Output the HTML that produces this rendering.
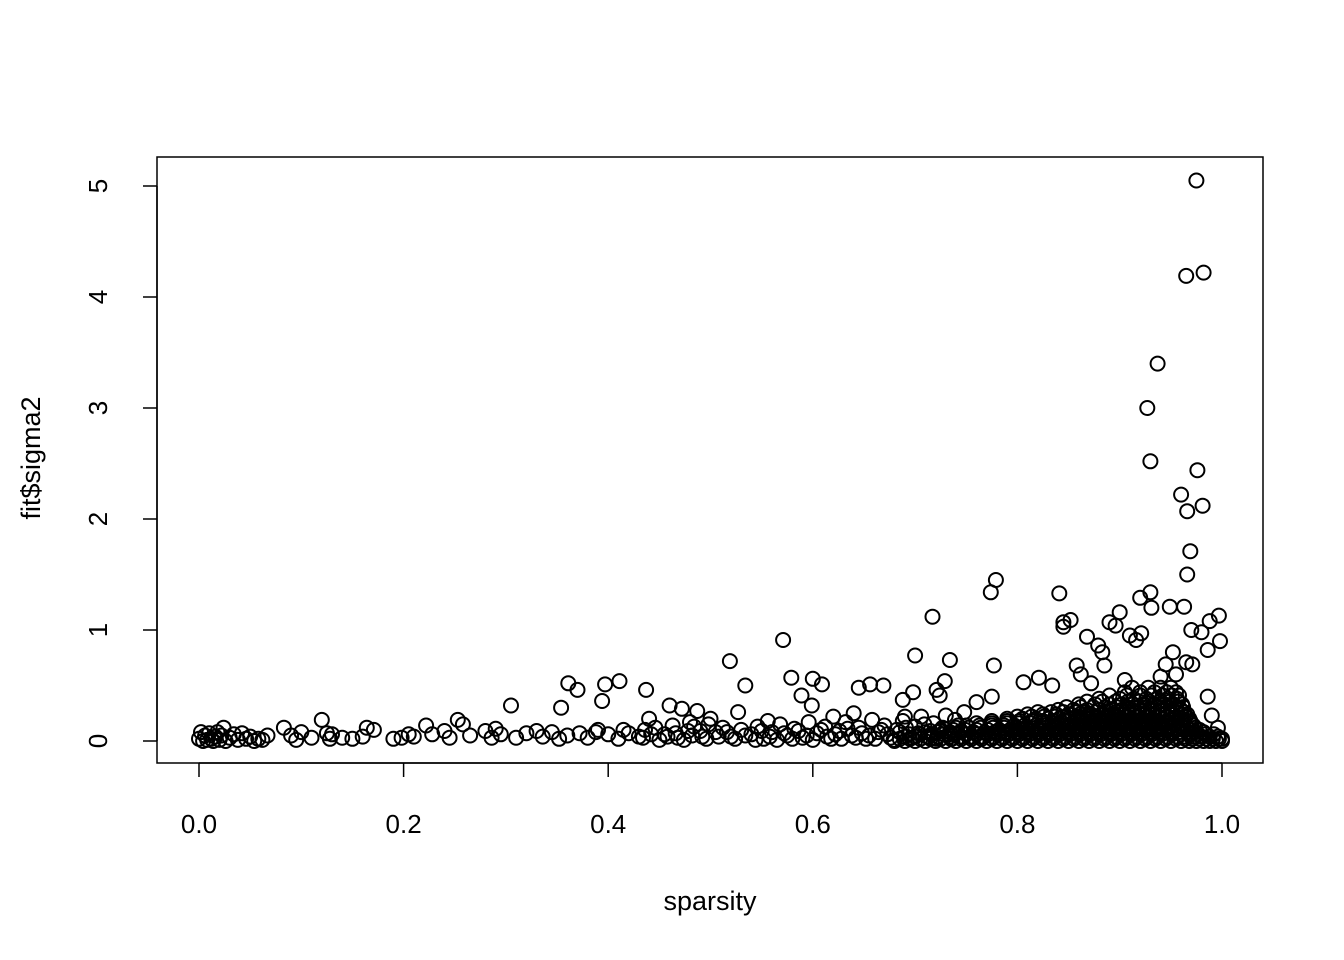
<!DOCTYPE html>
<html><head><meta charset="utf-8"><style>
html,body{margin:0;padding:0;background:#fff}
svg{display:block;font-family:"Liberation Sans",Arial,sans-serif}
</style></head><body>
<svg id="chart" width="1344" height="960" viewBox="0 0 1344 960">
<rect x="0" y="0" width="1344" height="960" fill="#fff"/>
<rect x="157" y="157" width="1106" height="606" fill="none" stroke="#000" stroke-width="1.5"/>
<g id="points" fill="none" stroke="#000" stroke-width="2"></g>
<g id="axes"></g>
<text x="710" y="910" font-size="27" text-anchor="middle">sparsity</text>
<text transform="translate(40,458) rotate(-90)" font-size="27" text-anchor="middle">fit$sigma2</text>
</svg>
<script>
const xTicks = [0.0, 0.2, 0.4, 0.6, 0.8, 1.0];
const xTickLabels = ["0.0", "0.2", "0.4", "0.6", "0.8", "1.0"];
const yTicks = [0, 1, 2, 3, 4, 5];
const yTickLabels = ["0", "1", "2", "3", "4", "5"];

const outlierPoints = [
[0.975,5.05],[0.965,4.19],[0.982,4.22],[0.937,3.40],[0.927,3.00],[0.930,2.52],[0.976,2.44],
[0.960,2.22],[0.981,2.12],[0.966,2.07],[0.969,1.71],[0.966,1.50],[0.779,1.45],[0.774,1.34],
[0.841,1.33],[0.930,1.34],[0.920,1.29],[0.949,1.21],[0.963,1.21],[0.931,1.20],[0.997,1.13],
[0.717,1.12],[0.900,1.16],[0.852,1.09],[0.845,1.07],[0.845,1.03],[0.890,1.07],[0.896,1.04],
[0.988,1.08],[0.970,1.00],[0.980,0.98],[0.910,0.95],[0.916,0.91],[0.921,0.97],[0.998,0.90],
[0.868,0.94],[0.571,0.91],[0.879,0.86],[0.883,0.80],[0.986,0.82],[0.952,0.80],[0.700,0.77],
[0.519,0.72],[0.734,0.73],[0.945,0.69],[0.965,0.71],[0.971,0.69],[0.777,0.68],[0.858,0.68],
[0.885,0.68],[0.579,0.57],[0.600,0.56],[0.609,0.51],[0.361,0.52],[0.397,0.51],[0.411,0.54],
[0.370,0.46],[0.394,0.36],[0.437,0.46],[0.534,0.50],[0.729,0.54],[0.721,0.46],[0.724,0.41],
[0.645,0.48],[0.656,0.51],[0.669,0.50],[0.698,0.44],[0.688,0.37],[0.589,0.41],[0.599,0.32],
[0.305,0.32],[0.354,0.30],[0.460,0.32],[0.472,0.29],[0.487,0.27],[0.527,0.26],[0.986,0.40],
[0.806,0.53],[0.821,0.57],[0.834,0.50],[0.120,0.19],[0.253,0.19],[0.222,0.14],[0.164,0.12],
[0.171,0.10],[0.083,0.12],[0.024,0.12],[0.067,0.05],[0.990,0.23],[0.996,0.12],[0.955,0.60],
[0.940,0.58],[0.862,0.60],[0.872,0.52],[0.905,0.55],[0.775,0.40],[0.760,0.35],[0.690,0.22],
[0.640,0.25],[0.620,0.22],[0.556,0.18],[0.500,0.20],[0.480,0.17],[0.440,0.20],[0.258,0.15],
[0.100,0.08],[0.130,0.06],[0.290,0.11],[0.330,0.09],[0.390,0.10],[0.415,0.10]
];

const lowBandPoints = [
[0.000,0.02],[0.002,0.08],[0.004,0.00],[0.006,0.05],[0.008,0.01],[0.010,0.07],[0.012,0.02],
[0.014,0.00],[0.016,0.04],[0.018,0.08],[0.020,0.01],[0.022,0.05],[0.026,0.00],[0.030,0.03],
[0.034,0.06],[0.038,0.01],[0.042,0.07],[0.046,0.02],[0.050,0.04],[0.054,0.00],[0.058,0.02],
[0.062,0.01],[0.090,0.05],[0.095,0.01],[0.110,0.03],[0.125,0.07],[0.128,0.02],[0.140,0.03],
[0.150,0.02],[0.160,0.04],[0.190,0.02],[0.198,0.03],[0.205,0.06],[0.210,0.04],[0.228,0.06],
[0.240,0.09],[0.245,0.03],[0.265,0.05],[0.280,0.09],[0.286,0.03],[0.295,0.06],[0.310,0.03],
[0.320,0.07],[0.336,0.04],[0.345,0.08],[0.352,0.02],[0.360,0.05],[0.372,0.07],[0.380,0.03],
[0.388,0.08],[0.400,0.06],[0.410,0.02],[0.420,0.07],[0.430,0.04],[0.436,0.10],[0.446,0.12],
[0.455,0.06],[0.463,0.14],[0.468,0.03],[0.478,0.09],[0.484,0.13],[0.492,0.04],[0.498,0.15],
[0.505,0.08],[0.512,0.12],[0.520,0.04],[0.530,0.10],[0.540,0.06],[0.546,0.13],[0.552,0.02],
[0.560,0.08],[0.568,0.15],[0.575,0.05],[0.582,0.11],[0.590,0.03],[0.596,0.17],[0.604,0.07],
[0.612,0.13],[0.618,0.02],[0.626,0.09],[0.632,0.17],[0.638,0.05],[0.645,0.12],[0.652,0.02],
[0.658,0.19],[0.664,0.08],[0.670,0.14],[0.676,0.03],[0.682,0.10],[0.688,0.18],[0.694,0.06],
[0.700,0.13],[0.706,0.22],[0.712,0.04],[0.718,0.16],[0.724,0.09],[0.730,0.23],[0.736,0.02],
[0.742,0.14],[0.748,0.26],
[0.434,0.03],[0.442,0.06],[0.450,0.01],[0.458,0.04],[0.466,0.07],[0.474,0.01],[0.482,0.05],
[0.490,0.09],[0.496,0.02],[0.508,0.04],[0.516,0.08],[0.524,0.02],[0.534,0.05],[0.544,0.01],
[0.550,0.09],[0.558,0.04],[0.565,0.01],[0.572,0.07],[0.580,0.02],[0.586,0.09],[0.594,0.05],
[0.600,0.01],[0.608,0.10],[0.614,0.04],[0.622,0.06],[0.628,0.02],[0.634,0.11],[0.642,0.03],
[0.648,0.07],[0.655,0.05],[0.661,0.02],[0.667,0.10],[0.673,0.06],[0.679,0.01],[0.685,0.08],
[0.691,0.12],[0.697,0.03],[0.703,0.07],[0.709,0.15],[0.715,0.09],[0.721,0.02],[0.727,0.12],
[0.733,0.06],[0.739,0.19],[0.745,0.09]
];

const denseLevels = [0.00, 0.04, 0.08, 0.12, 0.16, 0.20, 0.24, 0.28, 0.33, 0.38, 0.44];
const denseRowX = [
[0.680,0.690,0.700,0.710,0.720,0.730,0.740,0.750,0.760,0.770,0.780,0.790,0.800,0.810,0.820,0.830,0.840,0.850,0.860,0.870,0.880,0.890,0.900,0.910,0.920,0.930,0.940,0.950,0.960,0.968,0.975,0.982,0.988,0.994,1.000],
[0.690,0.700,0.712,0.722,0.734,0.745,0.755,0.765,0.776,0.786,0.796,0.806,0.816,0.826,0.836,0.846,0.856,0.866,0.876,0.886,0.896,0.906,0.916,0.926,0.936,0.946,0.956,0.964,0.972,0.980,0.988,0.996],
[0.710,0.722,0.734,0.745,0.757,0.768,0.778,0.789,0.799,0.809,0.819,0.829,0.839,0.849,0.859,0.869,0.879,0.889,0.899,0.909,0.919,0.929,0.939,0.949,0.958,0.966,0.974,0.982],
[0.740,0.752,0.764,0.776,0.787,0.798,0.808,0.818,0.828,0.838,0.848,0.858,0.868,0.878,0.888,0.898,0.908,0.918,0.928,0.938,0.948,0.957,0.966,0.974],
[0.760,0.775,0.790,0.802,0.813,0.824,0.834,0.844,0.854,0.864,0.874,0.884,0.894,0.904,0.914,0.924,0.934,0.944,0.953,0.962,0.970],
[0.790,0.805,0.818,0.830,0.841,0.852,0.862,0.872,0.882,0.892,0.902,0.912,0.922,0.932,0.942,0.951,0.960,0.968],
[0.810,0.825,0.838,0.850,0.861,0.872,0.882,0.892,0.902,0.912,0.922,0.932,0.942,0.951,0.960,0.966],
[0.840,0.855,0.868,0.880,0.891,0.902,0.912,0.922,0.932,0.942,0.951,0.960],
[0.860,0.876,0.890,0.902,0.913,0.924,0.934,0.944,0.953,0.961],
[0.880,0.900,0.914,0.926,0.937,0.947,0.956],
[0.905,0.920,0.934,0.946,0.955]
];

const fillLevels = [0.02, 0.06, 0.10, 0.14, 0.18, 0.22, 0.26, 0.305, 0.355, 0.41, 0.48];
const fillRowX = [
[0.685,0.695,0.705,0.715,0.725,0.735,0.745,0.755,0.765,0.775,0.785,0.795,0.805,0.815,0.825,0.835,0.845,0.855,0.865,0.875,0.885,0.895,0.905,0.915,0.925,0.935,0.945,0.955,0.964,0.971,0.978,0.985,0.991,0.997,1.000],
[0.705,0.716,0.728,0.739,0.750,0.760,0.771,0.781,0.791,0.801,0.811,0.821,0.831,0.841,0.851,0.861,0.871,0.881,0.891,0.901,0.911,0.921,0.931,0.941,0.951,0.960,0.968,0.976,0.984,0.992],
[0.725,0.737,0.749,0.760,0.771,0.782,0.793,0.803,0.813,0.823,0.833,0.843,0.853,0.863,0.873,0.883,0.893,0.903,0.913,0.923,0.933,0.943,0.953,0.962,0.970,0.978],
[0.750,0.763,0.775,0.787,0.797,0.807,0.818,0.828,0.838,0.848,0.858,0.868,0.878,0.888,0.898,0.908,0.918,0.928,0.938,0.948,0.957,0.965,0.972],
[0.775,0.790,0.802,0.814,0.825,0.836,0.846,0.856,0.866,0.876,0.886,0.896,0.906,0.916,0.926,0.936,0.946,0.955,0.963,0.969],
[0.800,0.814,0.826,0.837,0.848,0.858,0.868,0.878,0.888,0.898,0.908,0.918,0.928,0.938,0.947,0.956,0.964],
[0.820,0.833,0.845,0.856,0.867,0.877,0.887,0.897,0.907,0.917,0.927,0.937,0.947,0.956,0.963],
[0.848,0.862,0.874,0.886,0.897,0.907,0.917,0.927,0.937,0.947,0.955,0.962],
[0.868,0.883,0.896,0.908,0.919,0.929,0.939,0.949,0.957],
[0.890,0.907,0.920,0.931,0.942,0.951,0.958],
[0.912,0.928,0.940,0.950]
];

const X0 = 199, XSCALE = 1023, Y0 = 741, YSCALE = 111;
function sx(v){ return X0 + v * XSCALE; }
function sy(v){ return Y0 - v * YSCALE; }

const NS = "http://www.w3.org/2000/svg";
const pg = document.getElementById("points");
function addPoint(x, y){
  const c = document.createElementNS(NS, "circle");
  c.setAttribute("cx", sx(x).toFixed(1));
  c.setAttribute("cy", sy(y).toFixed(1));
  c.setAttribute("r", "7");
  
  
  pg.appendChild(c);
}
lowBandPoints.forEach(p => addPoint(p[0], p[1]));
denseRowX.forEach((row, i) => row.forEach(x => addPoint(x, denseLevels[i])));
fillRowX.forEach((row, i) => row.forEach(x => addPoint(x, fillLevels[i])));
outlierPoints.forEach(p => addPoint(p[0], p[1]));

const ag = document.getElementById("axes");
function mk(tag, attrs){
  const e = document.createElementNS(NS, tag);
  for (const k in attrs) e.setAttribute(k, attrs[k]);
  ag.appendChild(e);
  return e;
}
const xl = mk("line", {x1: sx(xTicks[0]), x2: sx(xTicks[xTicks.length-1]), y1: 763, y2: 763, stroke: "#000", "stroke-width": 1.5});


xTicks.forEach((t, i) => {
  const tk = mk("line", {x1: sx(t), x2: sx(t), y1: 763, y2: 777, stroke: "#000", "stroke-width": 1.5});
  
  
  const tx = mk("text", {x: sx(t), y: 833, "font-size": 26, "text-anchor": "middle"});
  tx.textContent = xTickLabels[i];
  
  
});
const yl = mk("line", {x1: 157, x2: 157, y1: sy(yTicks[0]), y2: sy(yTicks[yTicks.length-1]), stroke: "#000", "stroke-width": 1.5});


yTicks.forEach((t, i) => {
  const tk = mk("line", {x1: 143, x2: 157, y1: sy(t), y2: sy(t), stroke: "#000", "stroke-width": 1.5});
  
  
  const tx = mk("text", {transform: "translate(107," + sy(t) + ") rotate(-90)", "font-size": 26, "text-anchor": "middle"});
  tx.textContent = yTickLabels[i];
  
  
});
</script>
</body></html>
